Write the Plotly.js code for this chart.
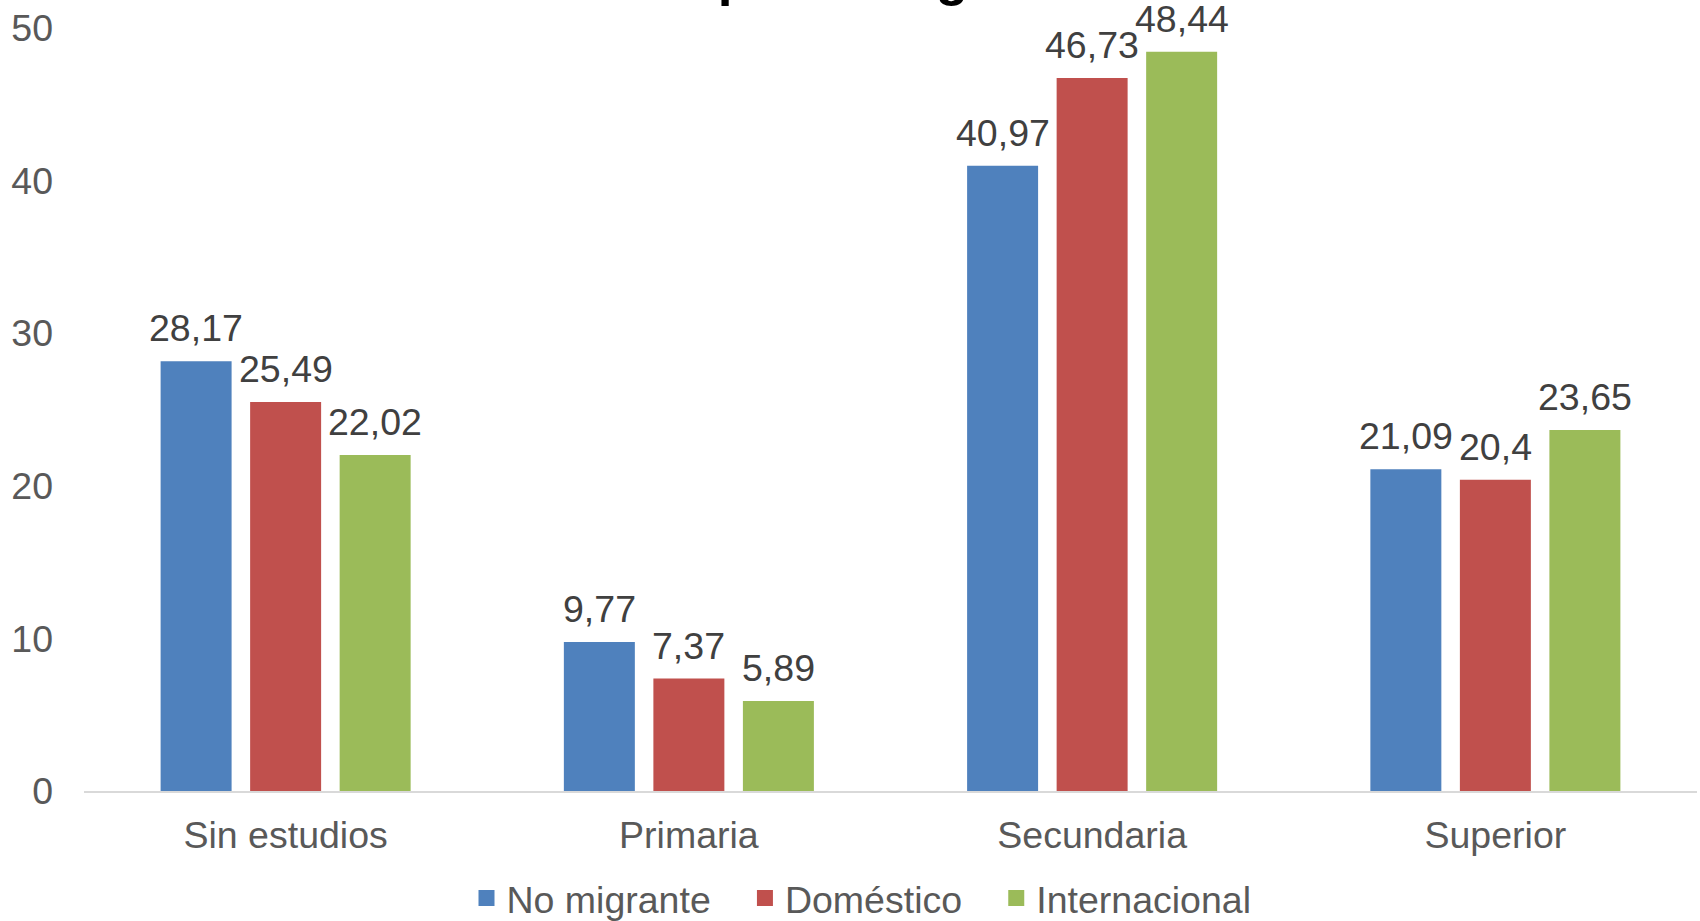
<!DOCTYPE html>
<html>
<head>
<meta charset="utf-8">
<script src="https://cdn.plot.ly/plotly-3.0.1.min.js"></script>
<style>
  html, body { margin: 0; padding: 0; background: #ffffff; }
  #chart { width: 1700px; height: 921px; }
</style>
</head>
<body>
<div id="chart"></div>
<script>
// ---- data ----
const categories = ['Sin estudios', 'Primaria', 'Secundaria', 'Superior'];
const seriesNames = ['No migrante', 'Doméstico', 'Internacional'];
const noMigrante = [28.17, 9.77, 40.97, 21.09];
const domestico = [25.49, 7.37, 46.73, 20.4];
const internacional = [22.02, 5.89, 48.44, 23.65];
const yTicks = [0, 10, 20, 30, 40, 50];
const titleText = 'Tipo de migrante';

// ---- styles ----
const FONT = 'Liberation Sans, Arial, Helvetica, sans-serif';
const FS = 37.5;
const colors = ['#4F81BD', '#C0504D', '#9BBB59'];
const values = [noMigrante, domestico, internacional];

const fmt = v => String(v).replace('.', ',');

const traces = values.map((vals, i) => ({
  type: 'bar',
  name: seriesNames[i],
  legendgroup: 's' + i,
  showlegend: false,
  x: categories,
  y: vals,
  marker: { color: colors[i] },
  hoverinfo: 'x+y+name'
}));

// legend entries (square keys)
values.forEach((vals, i) => {
  traces.push({
    type: 'scatter', mode: 'markers',
    name: seriesNames[i] + '\u2002\u00A0',
    legendgroup: 's' + i,
    showlegend: true,
    x: [null], y: [null],
    marker: { symbol: 'square', size: 18, color: colors[i] },
    hoverinfo: 'skip'
  });
});

const slotPx = 89.5;
const annotations = [];
values.forEach((vals, i) => {
  vals.forEach((v, j) => {
    annotations.push({
      x: categories[j], y: v, xref: 'x', yref: 'y',
      xshift: (i - 1) * slotPx, yshift: 10,
      yanchor: 'bottom', xanchor: 'center',
      text: fmt(v), showarrow: false,
      font: { family: FONT, size: FS, color: '#404040' }
    });
  });
});

const layout = {
  width: 1700, height: 921,
  margin: { l: 84, r: 3, t: 28, b: 130, pad: 0 },
  paper_bgcolor: '#ffffff', plot_bgcolor: '#ffffff',
  separators: ',.',
  font: { family: FONT, size: FS, color: '#595959' },
  title: {
    text: titleText,
    xref: 'container', yref: 'container',
    x: 0.5204, y: 1 - 3 / 921, xanchor: 'center', yanchor: 'bottom',
    pad: { b: 8 },
    font: { family: FONT, size: 53, color: '#000000', weight: 700 }
  },
  barmode: 'group',
  bargap: 0.334,
  bargroupgap: 0.207,
  xaxis: {
    type: 'category',
    showgrid: false, zeroline: false,
    showline: true, linecolor: '#D9D9D9', linewidth: 2,
    ticks: '', ticklabelstandoff: 10,
    tickfont: { family: FONT, size: FS, color: '#595959' },
    fixedrange: true
  },
  yaxis: {
    range: [0, 50],
    tickvals: yTicks,
    ticktext: yTicks.map(String),
    showgrid: false, zeroline: false, showline: false,
    ticks: '', ticklabelstandoff: 30,
    tickfont: { family: FONT, size: FS, color: '#595959' },
    fixedrange: true
  },
  showlegend: true,
  legend: {
    orientation: 'h',
    xref: 'container', yref: 'container',
    x: 876 / 1700, y: 23 / 921, xanchor: 'center', yanchor: 'middle',
    font: { family: FONT, size: FS, color: '#595959' },
    bgcolor: 'rgba(0,0,0,0)',
    traceorder: 'normal'
  },
  annotations: annotations
};

Plotly.newPlot('chart', traces, layout, { displayModeBar: false, staticPlot: true });
</script>
</body>
</html>
